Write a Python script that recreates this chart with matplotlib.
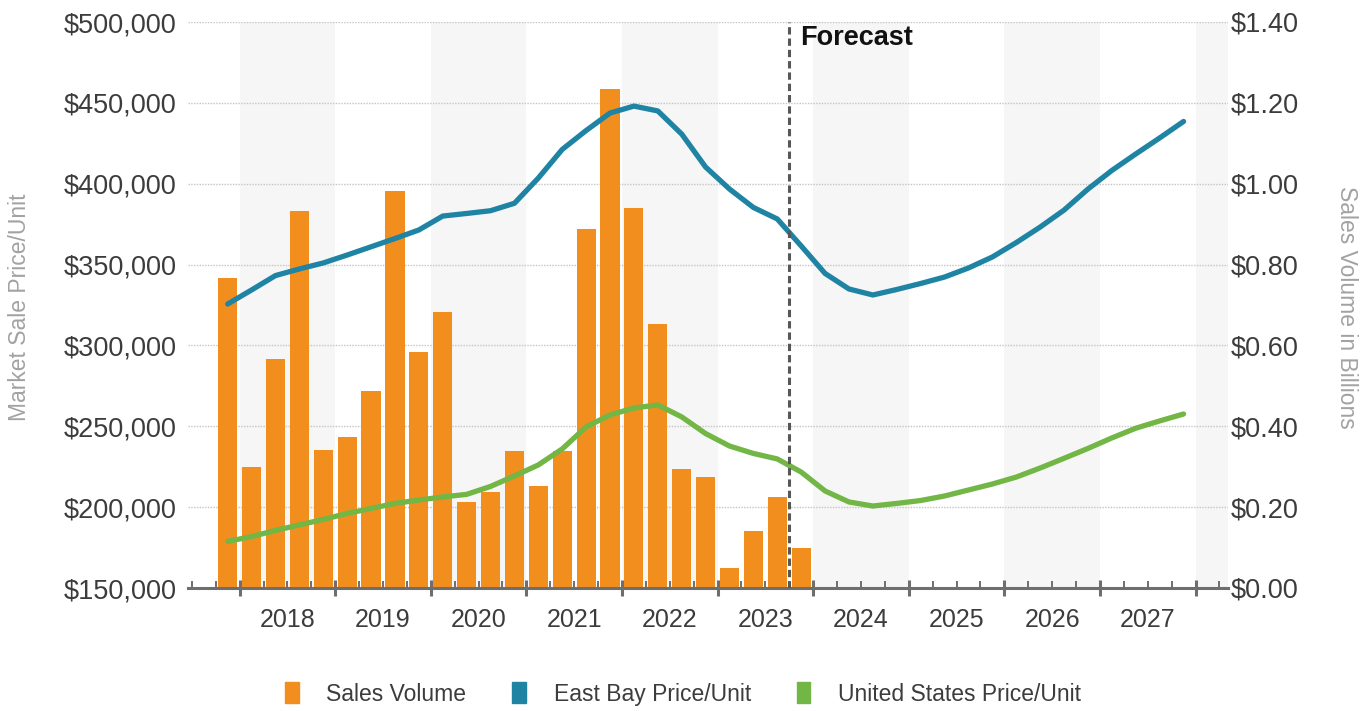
import matplotlib.pyplot as plt
from matplotlib.patches import Patch
from matplotlib.ticker import FuncFormatter, MultipleLocator
import numpy as np

plt.rcParams['font.family'] = ['Liberation Sans', 'DejaVu Sans']

# quarterly sales volume, $ billions (2017 Q4 - 2023 Q4)
volume = [0.767, 0.300, 0.566, 0.932, 0.342, 0.374, 0.488, 0.982, 0.584,
          0.683, 0.212, 0.238, 0.339, 0.253, 0.338, 0.887, 1.234, 0.939,
          0.652, 0.294, 0.275, 0.050, 0.141, 0.225, 0.100]

# quarterly market sale price per unit (2017 Q4 - 2027 Q4)
east_bay = [325600, 334300, 343200, 347300, 351000, 355900, 361000, 366100,
            371400, 380000, 381600, 383300, 387900, 403500, 421200, 432900,
            443700, 448000, 445000, 430700, 410300, 396700, 385300, 378200,
            361500, 344500, 334900, 331200, 334600, 338300, 342300, 347900,
            354700, 363600, 373200, 383700, 396700, 408200, 418400, 428300,
            438500]
united_states = [178800, 181800, 185600, 189000, 192400, 196100, 199200,
                 202300, 204400, 206300, 207900, 212800, 219300, 226100,
                 236000, 249600, 257000, 261300, 263200, 255800, 245500,
                 237800, 233200, 229800, 221700, 210000, 203200, 200700,
                 202300, 204100, 206900, 210600, 214300, 218600, 224200,
                 230200, 236300, 242800, 248800, 253300, 257600]

years = list(range(2018, 2028))
forecast_start = 2023.75

# quarter centres, starting at 2017 Q4
q_price = 2017.75 + 0.125 + 0.25 * np.arange(len(east_bay))
q_vol = q_price[:len(volume)]

ORANGE = '#f28e1e'
BLUE = '#1f84a4'
GREEN = '#72b646'
TEXT = '#3c3c3c'
AXIS = '#6e6e6e'

fig = plt.figure(figsize=(13.7, 7.11), dpi=100)
ax_vol = fig.add_axes([188 / 1370, 1 - 588 / 711, 1040 / 1370, 566 / 711])
ax_price = ax_vol.twinx()
ax_vol.yaxis.tick_right()

xmin, xmax = 2017.46, 2028.34
ax_vol.set_xlim(xmin, xmax)

# alternating year bands
for y in range(2018, 2029, 2):
    ax_vol.axvspan(y, min(y + 1, xmax), color='#f6f6f6', lw=0, zorder=0)

ax_vol.bar(q_vol, volume, width=0.2, color=ORANGE, zorder=2)
ax_vol.set_ylim(0, 1.4)
ax_vol.yaxis.set_major_locator(MultipleLocator(0.2))
ax_vol.yaxis.set_major_formatter(FuncFormatter(lambda v, p: f'${v:.2f}'))
ax_vol.grid(axis='y', color='#c4c4c4', lw=1, ls=(0, (1, 1)), zorder=1)
ax_vol.set_axisbelow(True)

ax_price.plot(q_price, east_bay, color=BLUE, lw=3.8,
              solid_joinstyle='round', solid_capstyle='round', zorder=3)
ax_price.plot(q_price, united_states, color=GREEN, lw=3.8,
              solid_joinstyle='round', solid_capstyle='round', zorder=3)
ax_price.set_ylim(150000, 500000)
ax_price.yaxis.set_major_locator(MultipleLocator(50000))
ax_price.yaxis.set_major_formatter(FuncFormatter(lambda v, p: f'${v:,.0f}'))
ax_price.yaxis.tick_left()

ax_price.axvline(forecast_start, color='#575757', lw=2.2, ls=(0, (2.4, 1.3)),
                 zorder=4)
ax_price.text(forecast_start + 0.11, 0.972, 'Forecast', transform=ax_price.get_xaxis_transform(),
              fontsize=19.5, fontweight='bold', color='#111111', va='center', ha='left')

for a in (ax_vol, ax_price):
    for s in ('top', 'left', 'right'):
        a.spines[s].set_visible(False)
    a.tick_params(axis='y', length=0, labelsize=19.5, labelcolor=TEXT)
ax_price.spines['bottom'].set_visible(False)
ax_price.tick_params(axis='y', pad=8)
ax_vol.tick_params(axis='y', pad=2)

ax_vol.spines['bottom'].set_color(AXIS)
ax_vol.spines['bottom'].set_linewidth(2.2)
ax_vol.spines['bottom'].set_zorder(5)

ax_vol.set_xticks(range(2018, 2029))
ax_vol.set_xticks([q for q in np.arange(2017.5, 2028.3, 0.25) if q % 1], minor=True)
ax_vol.tick_params(axis='x', which='major', direction='inout', length=11, width=2.2,
                   color=AXIS, labelbottom=False)
ax_vol.tick_params(axis='x', which='minor', direction='in', length=5, width=1.4,
                   color=AXIS)

for y in years:
    ax_vol.text(y + 0.5, -0.035, str(y), transform=ax_vol.get_xaxis_transform(),
                ha='center', va='top', fontsize=18, color=TEXT)

fig.text(20 / 1370, 1 - 307 / 711, 'Market Sale Price/Unit', rotation=90,
         ha='center', va='center', fontsize=16.5, color='#a2a2a2')
fig.text(1346 / 1370, 1 - 307 / 711, 'Sales Volume in Billions', rotation=270,
         ha='center', va='center', fontsize=16.5, color='#a2a2a2')

handles = [Patch(color=ORANGE, label='Sales Volume'),
           Patch(color=BLUE, label='East Bay Price/Unit'),
           Patch(color=GREEN, label='United States Price/Unit')]
fig.legend(handles=handles, loc='center', bbox_to_anchor=(683 / 1370, 1 - 694 / 711),
           ncol=3, frameon=False, fontsize=16.5, handlelength=0.6, handleheight=1.0,
           handletextpad=1.2, columnspacing=2.0, labelcolor=TEXT)

fig.savefig('out.png', dpi=100)
